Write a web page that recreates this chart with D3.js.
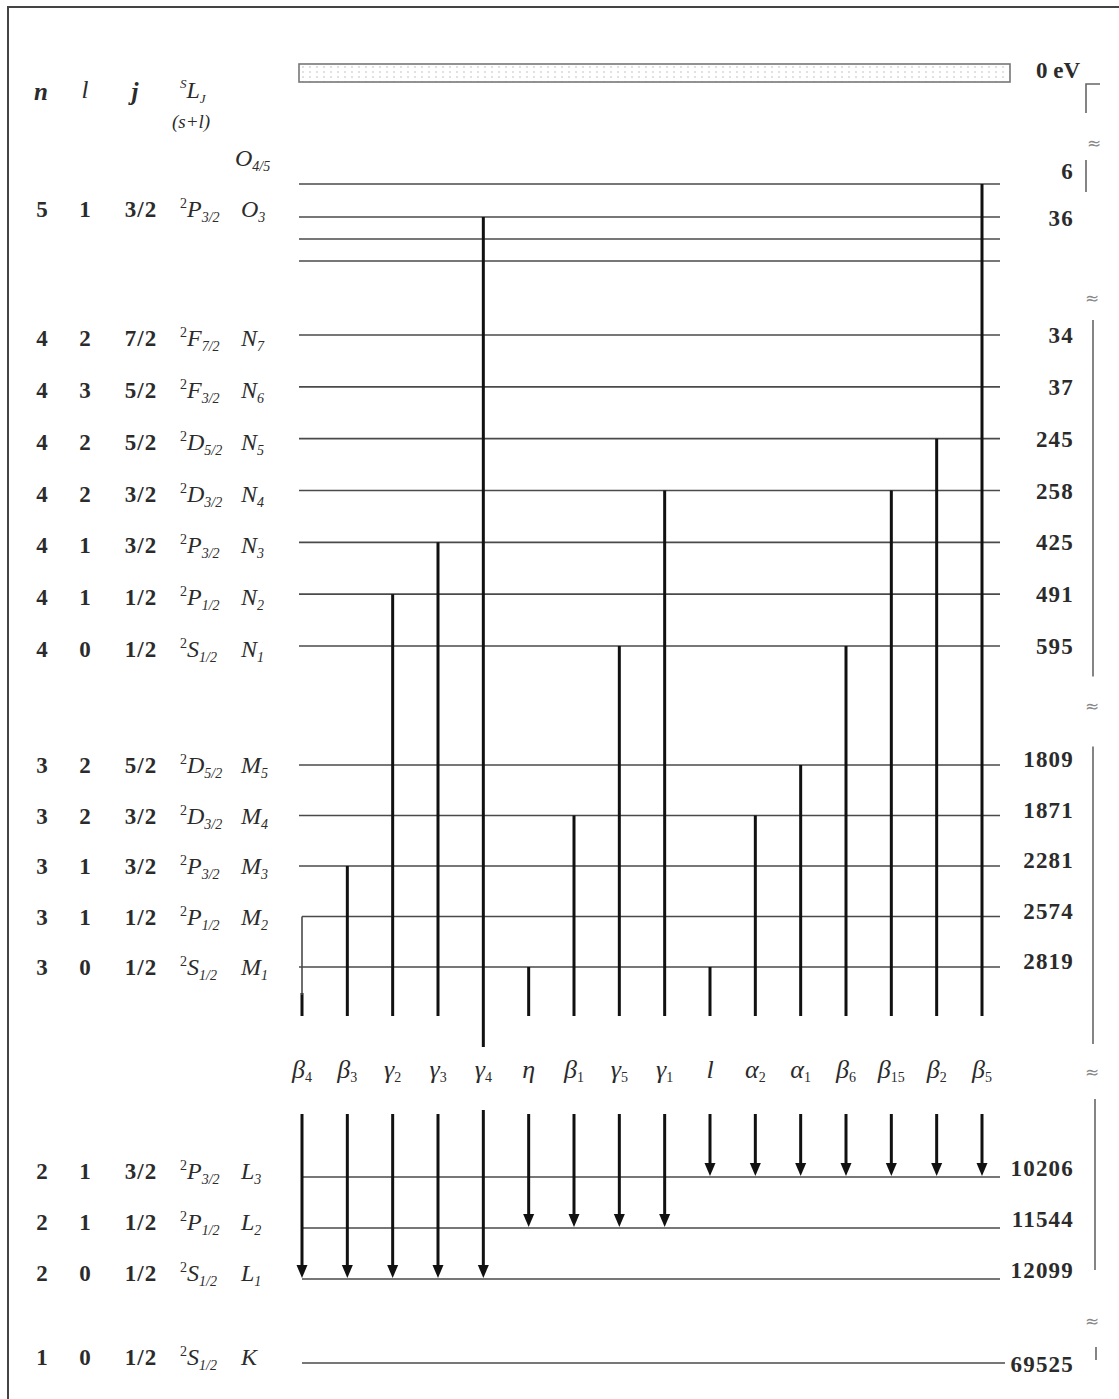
<!DOCTYPE html>
<html>
<head>
<meta charset="utf-8">
<script src="https://cdn.jsdelivr.net/npm/d3@7"></script>
<style>
  body { margin: 0; background: #fff; }
  svg text { font-family: "Liberation Serif", "Times New Roman", serif; fill: #2b2b2b; }
  svg text.brk { font-family: "DejaVu Sans", sans-serif; }
</style>
</head>
<body>
<svg id="viz"></svg>
<script>
(function () {
  'use strict';

  // energy levels, top to bottom (as printed)
  const levelIds    = ['O45', 'O3', 'Oa', 'Ob', 'N7', 'N6', 'N5', 'N4', 'N3', 'N2', 'N1', 'M5', 'M4', 'M3', 'M2', 'M1', 'L3', 'L2', 'L1', 'K'];
  const levelEnergy = ['6', '36', '', '', '34', '37', '245', '258', '425', '491', '595', '1809', '1871', '2281', '2574', '2819', '10206', '11544', '12099', '69525'];
  const levelN      = ['', '5', '', '', '4', '4', '4', '4', '4', '4', '4', '3', '3', '3', '3', '3', '2', '2', '2', '1'];
  const levelL      = ['', '1', '', '', '2', '3', '2', '2', '1', '1', '0', '2', '2', '1', '1', '0', '1', '1', '0', '0'];
  const levelJ      = ['', '3/2', '', '', '7/2', '5/2', '5/2', '3/2', '3/2', '1/2', '1/2', '5/2', '3/2', '3/2', '1/2', '1/2', '3/2', '1/2', '1/2', '1/2'];
  const termLetter  = ['', 'P', '', '', 'F', 'F', 'D', 'D', 'P', 'P', 'S', 'D', 'D', 'P', 'P', 'S', 'P', 'P', 'S', 'S'];
  const termSub     = ['', '3/2', '', '', '7/2', '3/2', '5/2', '3/2', '3/2', '1/2', '1/2', '5/2', '3/2', '3/2', '1/2', '1/2', '3/2', '1/2', '1/2', '1/2'];
  const shellSub    = ['4/5', '3', '', '', '7', '6', '5', '4', '3', '2', '1', '5', '4', '3', '2', '1', '3', '2', '1', ''];

  // emission lines: name, upper level, lower level
  const lineNames = ['β4', 'β3', 'γ2', 'γ3', 'γ4', 'η', 'β1', 'γ5', 'γ1', 'l', 'α2', 'α1', 'β6', 'β15', 'β2', 'β5'];
  const lineUpper = ['M2', 'M3', 'N2', 'N3', 'O3', 'M1', 'M4', 'N1', 'N4', 'M1', 'M4', 'M5', 'N1', 'N4', 'N5', 'O45'];
  const lineLower = ['L1', 'L1', 'L1', 'L1', 'L1', 'L2', 'L2', 'L2', 'L2', 'L3', 'L3', 'L3', 'L3', 'L3', 'L3', 'L3'];

  const width = 1119;
  const height = 1399;

  const levels = levelIds.map((id, i) => ({
    id: id,
    energy: levelEnergy[i],
    n: levelN[i], l: levelL[i], j: levelJ[i],
    term: termLetter[i], termSub: termSub[i],
    shell: id[0], shellSub: shellSub[i]
  }));
  const lines = lineNames.map((name, i) => ({
    name: name, upper: lineUpper[i], lower: lineLower[i]
  }));

  // broken energy axis: each band gets its own point scale
  const bandOf = id => id === 'O45' ? 'O45' : id[0];
  const bandRange = {
    O45: [184, 184], O: [217, 261], N: [335, 646], M: [765, 967], L: [1177, 1279], K: [1363, 1363]
  };
  const bandText = { O45: 0, O: -7, N: 4, M: 1, L: -5, K: -5 };
  const bandRight = { O45: -12, O: 2, N: 1, M: -5, L: -8, K: 2 };
  const bandScales = {};
  Object.keys(bandRange).forEach(b => {
    bandScales[b] = d3.scalePoint()
      .domain(levelIds.filter(id => bandOf(id) === b))
      .range(bandRange[b]);
  });
  const y = id => bandScales[bandOf(id)](id);

  const x = d3.scalePoint()
    .domain(lineNames)
    .range([302, 982]);

  const lineX0 = 299;
  const lineX1 = 1000;

  const svg = d3.select('#viz')
    .attr('width', width)
    .attr('height', height);

  // frame
  svg.append('path')
    .attr('d', `M8,${height} L8,7 L${width},7`)
    .attr('fill', 'none')
    .attr('stroke', '#444')
    .attr('stroke-width', 2);

  const defs = svg.append('defs');
  const pat = defs.append('pattern')
    .attr('id', 'dots')
    .attr('width', 7).attr('height', 5)
    .attr('patternUnits', 'userSpaceOnUse');
  pat.append('circle').attr('cx', 2).attr('cy', 2).attr('r', 0.7).attr('fill', '#aaa');

  // helper: text built out of tspans with sub/superscripts
  function rich(g, px, py, parts, anchor) {
    const t = g.append('text')
      .attr('x', px).attr('y', py)
      .attr('text-anchor', anchor || 'start');
    let shift = 0;
    parts.forEach(p => {
      const s = p.shift || 0;
      t.append('tspan')
        .attr('dy', s - shift)
        .style('font-size', p.size + 'px')
        .style('font-style', p.italic ? 'italic' : 'normal')
        .style('font-weight', p.bold ? 'bold' : 'normal')
        .style('letter-spacing', p.ls ? p.ls + 'px' : null)
        .text(p.t);
      shift = s;
    });
    return t;
  }

  // vacuum band (0 eV)
  const bandTop = 64, bandBottom = 82;
  svg.append('rect')
    .attr('x', lineX0).attr('y', bandTop)
    .attr('width', 1010 - lineX0).attr('height', bandBottom - bandTop)
    .attr('fill', 'url(#dots)')
    .attr('stroke', '#777')
    .attr('stroke-width', 1.6);
  rich(svg, 1080, 78, [{ t: '0 eV', size: 23, bold: true }], 'end');

  // header
  const hdr = svg.append('g');
  rich(hdr, 41, 100, [{ t: 'n', size: 25, italic: true, bold: true }], 'middle');
  rich(hdr, 85, 98, [{ t: 'l', size: 25, italic: true }], 'middle');
  rich(hdr, 135, 100, [{ t: 'j', size: 25, italic: true, bold: true }], 'middle');
  rich(hdr, 180, 98, [
    { t: 'S', size: 13, italic: true, shift: -10 },
    { t: 'L', size: 24, italic: true, shift: 0 },
    { t: 'J', size: 13, italic: true, shift: 5 }
  ]);
  rich(hdr, 191, 128, [{ t: '(s+l)', size: 19, italic: true }], 'middle');

  // level lines
  svg.selectAll('.level')
    .data(levels)
    .enter()
    .append('line')
      .attr('class', 'level')
      .attr('x1', d => d.shell === 'L' || d.shell === 'K' || d.id === 'M2' ? 302 : lineX0)
      .attr('x2', d => d.shell === 'K' ? 1005 : lineX1)
      .attr('y1', d => y(d.id))
      .attr('y2', d => y(d.id))
      .attr('stroke', '#4a4a4a')
      .attr('stroke-width', 1.6);

  // left labels
  const left = svg.append('g');
  levels.forEach(d => {
    const yc = y(d.id) + bandText[bandOf(d.id)];
    const base = yc + 7;
    if (d.id === 'O45') {
      rich(left, 235, 166, [
        { t: 'O', size: 24, italic: true },
        { t: d.shellSub, size: 14, italic: true, shift: 5 }
      ]);
      return;
    }
    if (!d.n) {
      return;
    }
    rich(left, 42, base, [{ t: d.n, size: 23, bold: true }], 'middle');
    rich(left, 85, base, [{ t: d.l, size: 23, bold: true }], 'middle');
    rich(left, 141, base, [{ t: d.j, size: 23, bold: true, ls: 1 }], 'middle');
    rich(left, 180, base, [
      { t: '2', size: 14, shift: -9 },
      { t: d.term, size: 24, italic: true, shift: 0 },
      { t: d.termSub, size: 14, italic: true, shift: 5 }
    ]);
    const sh = [{ t: d.shell, size: 24, italic: true, shift: 0 }];
    if (d.shellSub) {
      sh.push({ t: d.shellSub, size: 14, italic: true, shift: 5 });
    }
    rich(left, 241, base, sh);
  });

  // right labels (energies in eV)
  const right = svg.append('g');
  levels.filter(d => d.energy).forEach(d => {
    const yc = y(d.id) + bandRight[bandOf(d.id)];
    rich(right, 1074, yc + 7, [{ t: d.energy, size: 23, bold: true, ls: 1.2 }], 'end');
  });

  // axis breaks and brackets on the right
  const brk = [
    143,
    (y('Ob') + y('N7')) / 2,
    (y('N1') + y('M5')) / 2,
    (y('M1') + y('L3')) / 2,
    (y('L1') + y('K')) / 2
  ];
  const br = svg.append('g').attr('stroke', '#666').attr('stroke-width', 1.6).attr('fill', 'none');
  br.append('path').attr('d', `M1100,${bandBottom + 2} L1086,${bandBottom + 2} L1086,${brk[0] - 30}`);
  br.append('line').attr('x1', 1086).attr('x2', 1086).attr('y1', brk[0] + 17).attr('y2', y('O45') + 8);
  br.append('line').attr('x1', 1093).attr('x2', 1093).attr('y1', brk[1] + 22).attr('y2', brk[2] - 29);
  br.append('line').attr('x1', 1093).attr('x2', 1093).attr('y1', brk[2] + 41).attr('y2', brk[3] - 28);
  br.append('line').attr('x1', 1095).attr('x2', 1095).attr('y1', brk[3] + 27).attr('y2', y('L1') - 9);
  br.append('line').attr('x1', 1096).attr('x2', 1096).attr('y1', brk[4] + 26).attr('y2', y('K') - 3);
  svg.selectAll('.brk')
    .data(brk)
    .enter()
    .append('text')
      .attr('class', 'brk')
      .attr('x', (d, i) => i === 0 ? 1094 : 1092)
      .attr('y', d => d + 6)
      .attr('text-anchor', 'middle')
      .style('font-size', '17px')
      .style('fill', '#888')
      .text('≈');

  // upper stems: from the upper level down to the label row
  const stemEnd = d => d.name === 'γ4' ? 1047 : 1016;
  svg.selectAll('.stem')
    .data(lines)
    .enter()
    .append('line')
      .attr('class', 'stem')
      .attr('x1', d => x(d.name))
      .attr('x2', d => x(d.name))
      .attr('y1', d => d.name === 'β4' ? 993 : y(d.upper))
      .attr('y2', stemEnd)
      .attr('stroke', '#111')
      .attr('stroke-width', 3);
  // β4 starts at M2 with the thin corner line
  svg.append('line')
    .attr('x1', x('β4')).attr('x2', x('β4'))
    .attr('y1', y('M2')).attr('y2', 995)
    .attr('stroke', '#4a4a4a')
    .attr('stroke-width', 1.6);

  // line labels
  svg.selectAll('.lname')
    .data(lines)
    .enter()
    .append('text')
      .attr('class', 'lname')
      .attr('x', d => x(d.name))
      .attr('y', 1078)
      .attr('text-anchor', 'middle')
      .each(function (d) {
        const t = d3.select(this);
        t.append('tspan')
          .style('font-size', '26px')
          .style('font-style', 'italic')
          .text(d.name[0]);
        if (d.name.length > 1) {
          t.append('tspan')
            .attr('dy', 4)
            .style('font-size', '14px')
            .text(d.name.slice(1));
        }
      });

  // lower arrows into the L levels
  const arrowTop = d => d.name === 'γ4' ? 1110 : 1114;
  const head = 13;
  svg.selectAll('.shaft')
    .data(lines)
    .enter()
    .append('line')
      .attr('class', 'shaft')
      .attr('x1', d => x(d.name))
      .attr('x2', d => x(d.name))
      .attr('y1', arrowTop)
      .attr('y2', d => y(d.lower) - head)
      .attr('stroke', '#111')
      .attr('stroke-width', 3);
  svg.selectAll('.head')
    .data(lines)
    .enter()
    .append('path')
      .attr('class', 'head')
      .attr('d', d => {
        const cx = x(d.name), tip = y(d.lower) - 1;
        return `M${cx - 5.5},${tip - head} L${cx + 5.5},${tip - head} L${cx},${tip} Z`;
      })
      .attr('fill', '#111');

}());
</script>
</body>
</html>
